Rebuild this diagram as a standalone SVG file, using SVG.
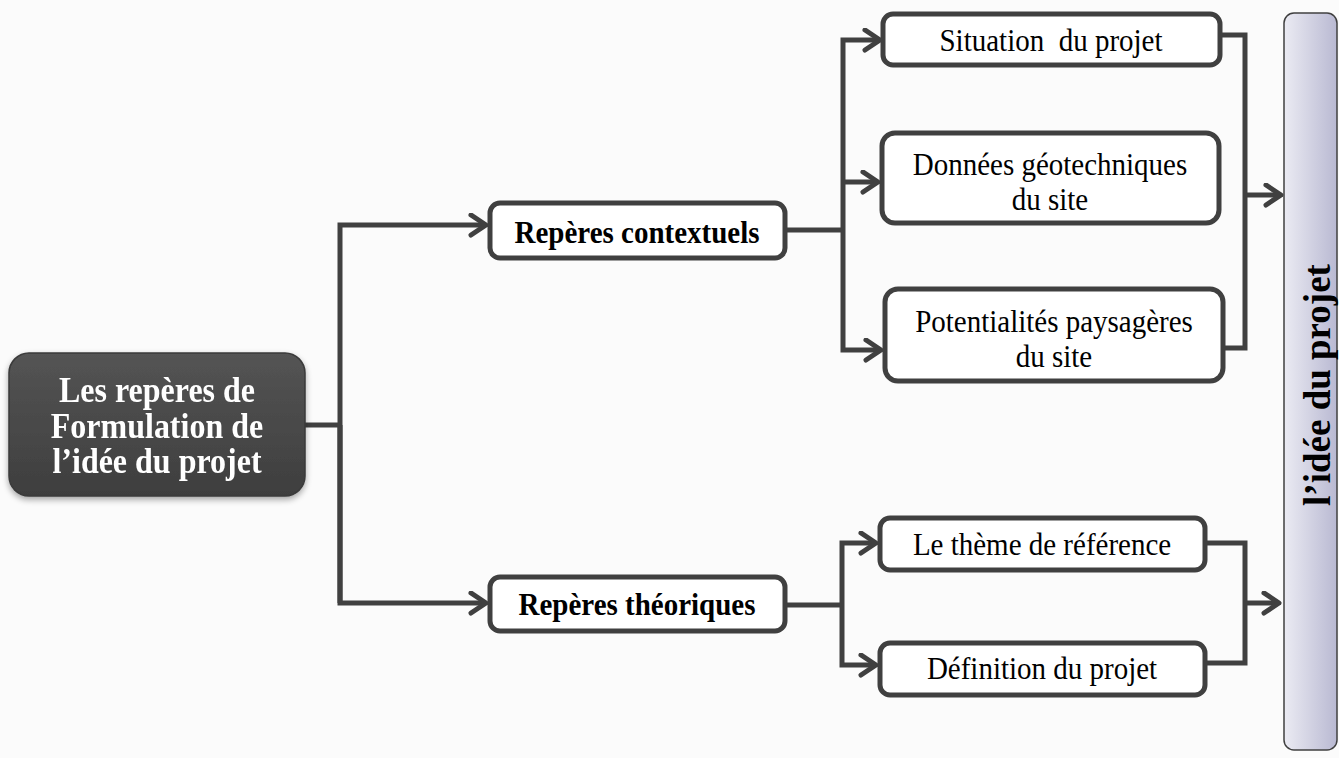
<svg xmlns="http://www.w3.org/2000/svg" width="1339" height="758" viewBox="0 0 1339 758">
  <style>
    .box { fill: #ffffff; stroke: #404040; stroke-width: 5; }
    .lbl { font-family: "Liberation Serif", "Times New Roman", serif; font-size: 29px; fill: #000000; text-anchor: middle; white-space: pre; }
    .bold { font-weight: bold; }
    .root { font-size: 32px; fill: #ffffff; }
    .wire { fill: none; stroke: #404040; stroke-width: 5; stroke-linejoin: miter; }
  </style>
  <defs>
    <marker id="chev" markerUnits="userSpaceOnUse" markerWidth="30" markerHeight="30" refX="19" refY="12" orient="auto">
      <path d="M4,2 L19,12 L4,22" fill="none" stroke="#404040" stroke-width="5" stroke-linecap="round" stroke-linejoin="round"/>
    </marker>
    <linearGradient id="darkFill" x1="0" y1="0" x2="0" y2="1">
      <stop offset="0" stop-color="#545454"/>
      <stop offset="1" stop-color="#3e3e3e"/>
    </linearGradient>
    <linearGradient id="sideFill" x1="0" y1="0" x2="1" y2="0">
      <stop offset="0" stop-color="#ebebf3"/>
      <stop offset="1" stop-color="#b9b9d2"/>
    </linearGradient>
    <filter id="soft" x="-10%" y="-10%" width="120%" height="130%">
      <feGaussianBlur in="SourceAlpha" stdDeviation="3"/>
      <feOffset dx="0" dy="3" result="b"/>
      <feComponentTransfer><feFuncA type="linear" slope="0.35"/></feComponentTransfer>
      <feMerge><feMergeNode/><feMergeNode in="SourceGraphic"/></feMerge>
    </filter>
  </defs>

  <rect x="0" y="0" width="1339" height="758" fill="#fbfbfb"/>

  <!-- connectors -->
  <g id="connectors">
    <polyline class="wire" points="305,425 340,425"/>
    <polyline class="wire" points="340,603 340,225 486,225" marker-end="url(#chev)"/>
    <polyline class="wire" points="340,425 340,603 486,603" marker-end="url(#chev)"/>

    <polyline class="wire" points="785,230 843,230"/>
    <polyline class="wire" points="843,230 843,40 880,40" marker-end="url(#chev)"/>
    <polyline class="wire" points="843,182 878,182" marker-end="url(#chev)"/>
    <polyline class="wire" points="843,230 843,350 881,350" marker-end="url(#chev)"/>

    <polyline class="wire" points="785,605 842,605"/>
    <polyline class="wire" points="842,605 842,543 876,543" marker-end="url(#chev)"/>
    <polyline class="wire" points="842,605 842,665 876,665" marker-end="url(#chev)"/>

    <polyline class="wire" points="1220,35 1245,35 1245,348 1223,348"/>
    <polyline class="wire" points="1245,195 1281,195" marker-end="url(#chev)"/>
    <polyline class="wire" points="1205,543 1245,543 1245,663 1205,663"/>
    <polyline class="wire" points="1245,603 1279,603" marker-end="url(#chev)"/>
  </g>

  <!-- root -->
  <g id="node-root" filter="url(#soft)">
    <rect x="9" y="353" width="296" height="143" rx="20" fill="url(#darkFill)" stroke="#3a3a3a" stroke-width="1.5"/>
    <text class="lbl bold root" transform="translate(157,402) scale(1,1.1)">Les repères de</text>
    <text class="lbl bold root" transform="translate(157,438) scale(1,1.1)">Formulation de</text>
    <text class="lbl bold root" transform="translate(157,473) scale(1,1.1)">l’idée du projet</text>
  </g>

  <g id="node-contextuels">
    <rect class="box" x="490" y="203" width="295" height="55" rx="10"/>
    <text class="lbl bold" transform="translate(637,243) scale(1,1.1)">Repères contextuels</text>
  </g>

  <g id="node-theoriques">
    <rect class="box" x="490" y="577" width="295" height="54" rx="10"/>
    <text class="lbl bold" transform="translate(637,615) scale(1,1.1)">Repères théoriques</text>
  </g>

  <g id="node-situation">
    <rect class="box" x="883" y="14" width="337" height="51" rx="10"/>
    <text class="lbl" transform="translate(1051,51) scale(1,1.1)">Situation  du projet</text>
  </g>

  <g id="node-donnees">
    <rect class="box" x="882" y="133" width="337" height="90" rx="13"/>
    <text class="lbl" transform="translate(1050,175) scale(1,1.1)">Données géotechniques</text>
    <text class="lbl" transform="translate(1050,210) scale(1,1.1)">du site</text>
  </g>

  <g id="node-potentialites">
    <rect class="box" x="885" y="289" width="338" height="92" rx="13"/>
    <text class="lbl" transform="translate(1054,332) scale(1,1.1)">Potentialités paysagères</text>
    <text class="lbl" transform="translate(1054,367) scale(1,1.1)">du site</text>
  </g>

  <g id="node-theme">
    <rect class="box" x="880" y="518" width="325" height="52" rx="10"/>
    <text class="lbl" transform="translate(1042,555) scale(1,1.1)">Le thème de référence</text>
  </g>

  <g id="node-definition">
    <rect class="box" x="880" y="643" width="325" height="52" rx="10"/>
    <text class="lbl" transform="translate(1042,679) scale(1,1.1)">Définition du projet</text>
  </g>

  <g id="node-idee">
    <rect x="1284" y="13" width="53" height="737" rx="10" fill="url(#sideFill)" stroke="#404040" stroke-width="1.5"/>
    <text class="lbl bold" transform="translate(1330,385) rotate(-90)" style="font-size:37px">l’idée du projet</text>
  </g>
</svg>
